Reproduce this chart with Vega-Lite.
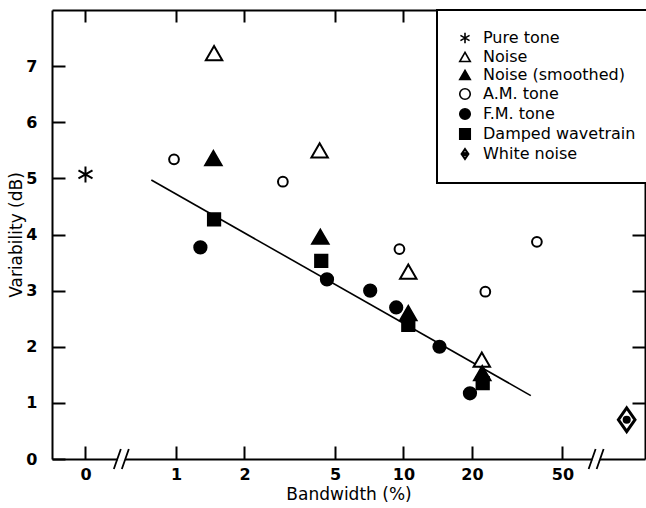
{
  "$schema": "https://vega.github.io/schema/vega-lite/v6.json",
  "width": 593,
  "height": 449,
  "autosize": {"type": "none"},
  "padding": {"left": 52, "top": 10, "right": 1, "bottom": 49},
  "background": "white",
  "config": {
    "font": "DejaVu Sans",
    "view": {"stroke": null},
    "axis": {
      "domainColor": "black",
      "domainWidth": 2,
      "tickColor": "black",
      "tickWidth": 2,
      "tickSize": -13,
      "grid": false,
      "labelFontSize": 16,
      "labelFontWeight": "bold",
      "labelColor": "black",
      "titleFontSize": 17,
      "titleColor": "black",
      "titleFontWeight": "normal"
    },
    "legend": {
      "strokeColor": "black",
      "strokeWidth": 2,
      "fillColor": "white",
      "padding": 20,
      "labelFontSize": 16,
      "labelColor": "black",
      "rowPadding": 2,
      "symbolSize": 110,
      "symbolStrokeWidth": 1.6,
      "labelOffset": 10
    }
  },
  "datasets": {
    "pts": [
      {"bw": 0.4, "var": 5.07, "type": "Pure tone"},
      {"bw": 1.47, "var": 7.23, "type": "Noise"},
      {"bw": 4.28, "var": 5.5, "type": "Noise"},
      {"bw": 10.5, "var": 3.34, "type": "Noise"},
      {"bw": 22.1, "var": 1.77, "type": "Noise"},
      {"bw": 1.46, "var": 5.36, "type": "Noise (smoothed)"},
      {"bw": 4.31, "var": 3.96, "type": "Noise (smoothed)"},
      {"bw": 10.5, "var": 2.6, "type": "Noise (smoothed)"},
      {"bw": 22.2, "var": 1.53, "type": "Noise (smoothed)"},
      {"bw": 0.98, "var": 5.34, "type": "A.M. tone"},
      {"bw": 2.95, "var": 4.94, "type": "A.M. tone"},
      {"bw": 9.6, "var": 3.74, "type": "A.M. tone"},
      {"bw": 38.6, "var": 3.87, "type": "A.M. tone"},
      {"bw": 22.9, "var": 2.98, "type": "A.M. tone"},
      {"bw": 1.28, "var": 3.77, "type": "F.M. tone"},
      {"bw": 4.61, "var": 3.2, "type": "F.M. tone"},
      {"bw": 7.14, "var": 3.0, "type": "F.M. tone"},
      {"bw": 9.29, "var": 2.7, "type": "F.M. tone"},
      {"bw": 14.4, "var": 2.0, "type": "F.M. tone"},
      {"bw": 19.6, "var": 1.17, "type": "F.M. tone"},
      {"bw": 1.47, "var": 4.27, "type": "Damped wavetrain"},
      {"bw": 4.35, "var": 3.53, "type": "Damped wavetrain"},
      {"bw": 10.5, "var": 2.39, "type": "Damped wavetrain"},
      {"bw": 22.3, "var": 1.35, "type": "Damped wavetrain"},
      {"bw": 95.8, "var": 0.7, "type": "White noise"}
    ],
    "fit": [
      {"bw": 0.779, "var": 4.97},
      {"bw": 36.3, "var": 1.13}
    ],
    "breaks": [
      {"bw": 0.575, "var": 0},
      {"bw": 70.3, "var": 0}
    ]
  },
  "layer": [
    {
      "data": {"name": "fit"},
      "mark": {"type": "line", "color": "black", "strokeWidth": 1.6},
      "encoding": {
        "x": {
          "field": "bw", "type": "quantitative",
          "scale": {"type": "log", "domain": [0.285, 115.3], "nice": false},
          "axis": {"orient": "top", "values": [0.4, 1, 2, 5, 10, 20, 50], "labels": false, "title": null, "tickSize": -12}
        },
        "y": {
          "field": "var", "type": "quantitative",
          "scale": {"domain": [0, 8], "nice": false},
          "axis": {"orient": "right", "values": [1, 2, 3, 4, 5, 6, 7], "labels": false, "title": null}
        }
      }
    },
    {
      "data": {"name": "breaks"},
      "mark": {"type": "point", "shape": "M-0.7,0.35L0.7,0.35L0.7,-0.35L-0.7,-0.35Z", "filled": true, "fill": "white", "strokeWidth": 0, "size": 120, "opacity": 1},
      "encoding": {
        "x": {"field": "bw", "type": "quantitative", "axis": null},
        "y": {"field": "var", "type": "quantitative", "axis": null}
      }
    },
    {
      "data": {"name": "breaks"},
      "mark": {"type": "point", "shape": "M-0.75,1L-0.05,-1M0.05,1L0.75,-1", "filled": false, "stroke": "black", "strokeWidth": 1.8, "size": 400, "opacity": 1},
      "encoding": {
        "x": {"field": "bw", "type": "quantitative", "axis": null},
        "y": {"field": "var", "type": "quantitative", "axis": null}
      }
    },
    {
      "data": {"name": "pts"},
      "mark": {"type": "point", "filled": true, "strokeWidth": 2, "opacity": 1, "size": 95},
      "encoding": {
        "x": {
          "field": "bw", "type": "quantitative",
          "axis": {
            "orient": "bottom",
            "values": [0.4, 1, 2, 5, 10, 20, 50],
            "labelExpr": "datum.value < 0.5 ? '0' : datum.label",
            "labelPadding": 20,
            "title": "Bandwidth (%)",
            "titlePadding": 4
          }
        },
        "y": {
          "field": "var", "type": "quantitative",
          "axis": {
            "orient": "left",
            "values": [0, 1, 2, 3, 4, 5, 6, 7],
            "labelPadding": 28,
            "title": "Variability (dB)",
            "titlePadding": 0
          }
        },
        "shape": {
          "field": "type", "type": "nominal",
          "scale": {
            "domain": ["Pure tone", "Noise", "Noise (smoothed)", "A.M. tone", "F.M. tone", "Damped wavetrain", "White noise"],
            "range": [
              "M0,-1L0,1M-0.87,-0.5L0.87,0.5M-0.87,0.5L0.87,-0.5",
              "triangle-up",
              "triangle-up",
              "circle",
              "circle",
              "square",
              "M0,-1L0.7,0L0,1L-0.7,0ZM0,-0.86L-0.6,0L0,0.86L0.6,0ZM0.24,0A0.24,0.24 0 1 1 -0.24,0A0.24,0.24 0 1 1 0.24,0Z"
            ]
          },
          "legend": {"title": null, "orient": "none", "legendX": 385, "legendY": 0}
        },
        "fill": {
          "field": "type", "type": "nominal",
          "scale": {
            "domain": ["Pure tone", "Noise", "Noise (smoothed)", "A.M. tone", "F.M. tone", "Damped wavetrain", "White noise"],
            "range": ["black", "white", "black", "white", "black", "black", "black"]
          },
          "legend": {"title": null, "orient": "none", "legendX": 385, "legendY": 0}
        },
        "stroke": {
          "field": "type", "type": "nominal",
          "scale": {
            "domain": ["Pure tone", "Noise", "Noise (smoothed)", "A.M. tone", "F.M. tone", "Damped wavetrain", "White noise"],
            "range": ["black", "black", "black", "black", "black", "black", "black"]
          },
          "legend": {"title": null, "orient": "none", "legendX": 385, "legendY": 0}
        },
        "size": {
          "condition": [
            {"test": "datum.type === 'Pure tone'", "value": 260},
            {"test": "datum.type === 'Noise' || datum.type === 'Noise (smoothed)'", "value": 270},
            {"test": "datum.type === 'F.M. tone' || datum.type === 'Damped wavetrain'", "value": 150},
            {"test": "datum.type === 'White noise'", "value": 650}
          ],
          "value": 95
        }
      }
    }
  ],
  "resolve": {"axis": {"x": "independent", "y": "independent"}}
}
